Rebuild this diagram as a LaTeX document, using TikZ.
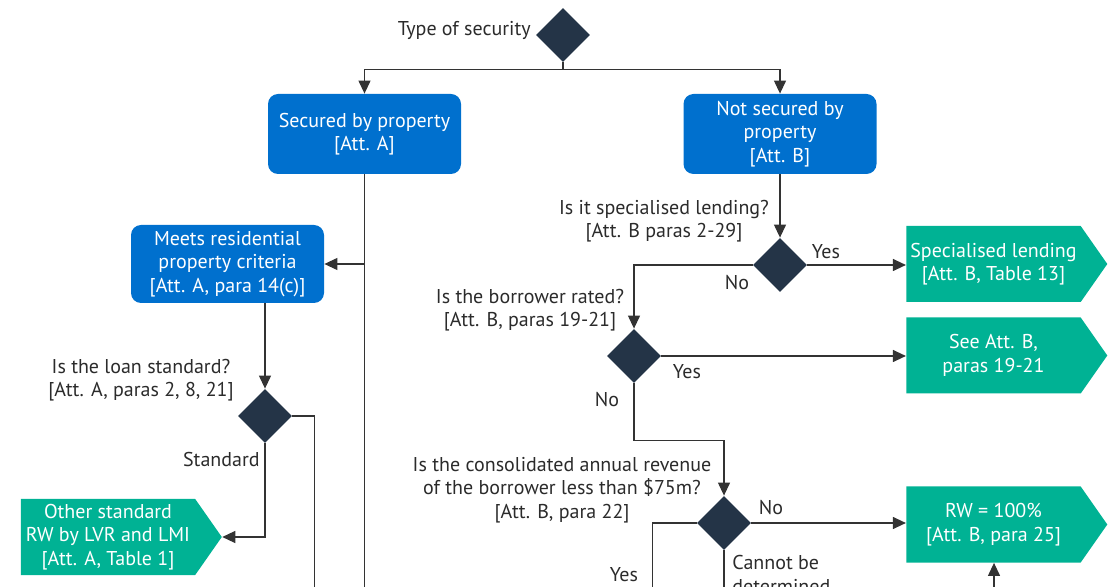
\documentclass[tikz,border=0pt]{standalone}
\usepackage{fontspec}
\setmainfont{PT Sans}
\usetikzlibrary{shapes.geometric,shapes.symbols,arrows.meta}
\definecolor{apblue}{HTML}{0070CE}
\definecolor{apgreen}{HTML}{00B294}
\definecolor{apnavy}{HTML}{243447}
\definecolor{apline}{HTML}{333333}
\definecolor{aptext}{HTML}{2B2B2B}

\begin{document}
\begin{tikzpicture}[x=0.5pt,y=-0.5pt,
    every node/.style={font=\fontsize{10}{11.75}\selectfont},
    bluebox/.style={rectangle, rounded corners=5pt, fill=apblue, text=white,
      minimum width=96.5pt, minimum height=40pt, align=center, inner sep=2pt},
    greenbox/.style={signal, signal to=east, signal pointer angle=110,
      fill=apgreen, text=white, minimum width=100.5pt, minimum height=38pt,
      align=center, inner sep=2pt},
    decide/.style={diamond, fill=apnavy, minimum width=27pt,
      minimum height=27pt, inner sep=0pt},
    lbl/.style={text=aptext, align=center, inner sep=0pt},
    conn/.style={draw=apline, line width=0.6pt},
    arr/.style={conn, -{Triangle[length=6.5pt,width=6pt]}}]

  \useasboundingbox (0,0) rectangle (1114,587);
  \clip (0,0) rectangle (1114,587);
  \coordinate (bot) at (0,600);

  % decisions
  \node[decide] (dtype) at (563,35) {};
  \node[decide] (dloan) at (265,416) {};
  \node[decide] (dspec) at (780,265) {};
  \node[decide] (drated) at (634,356) {};
  \node[decide] (drev) at (724,523) {};

  % boxes
  \node[bluebox] (secA) at (364.5,134) {Secured by property\\{}[Att. A]};
  \node[bluebox] (notB) at (780,134) {Not secured by\\property\\{}[Att. B]};
  \node[bluebox, minimum height=39pt] (meets) at (227.5,264) {Meets residential\\property criteria\\{}[Att. A, para 14(c)]};
  \node[greenbox] (other) at (108,537) {Other standard\\RW by LVR and LMI\\{}[Att. A, Table 1]};
  \node[greenbox] (spec) at (993.5,264) {Specialised lending\\{}[Att. B, Table 13]};
  \node[greenbox] (see) at (993.5,355.5) {See Att. B,\\paras 19-21};
  \node[greenbox] (rw) at (993.5,524.5) {RW = 100\%\\{}[Att. B, para 25]};

  % questions
  \node[lbl, anchor=east] (ltype) at (531,30) {Type of security};
  \node[lbl] (lloan) at (141,380) {Is the loan standard?\\{}[Att. A, paras 2, 8, 21]};
  \node[lbl] (lspec) at (664,221) {Is it specialised lending?\\{}[Att. B paras 2-29]};
  \node[lbl] (lrated) at (530,310) {Is the borrower rated?\\{}[Att. B, paras 19-21]};
  \node[lbl] (lrev) at (562,490) {Is the consolidated annual revenue\\of the borrower less than \$75m?\\{}[Att. B, para 22]};

  % answers
  \node[lbl, anchor=east] at (260,460) {Standard};
  \node[lbl] at (826,252) {Yes};
  \node[lbl] at (737,283) {No};
  \node[lbl] at (687,372) {Yes};
  \node[lbl] at (607,400) {No};
  \node[lbl] at (771,508) {No};
  \node[lbl] at (624,575) {Yes};
  \node[lbl, anchor=north west, align=left] at (732,555) {Cannot be\\determined};

  % connectors
  \draw[arr] (dtype.south) -- ++(0,7) -| (secA.north);
  \draw[arr] (dtype.south) -- ++(0,7) -| (notB.north);
  \draw[conn] (secA.south) -- (secA.south |- bot);
  \draw[arr] (secA.south |- meets.east) -- (meets.east);
  \draw[arr] (meets.south -| dloan) -- (dloan.north);
  \draw[conn] (dloan.east) -| ([xshift=11pt]dloan.east |- bot);
  \draw[arr] (dloan.south) |- (other.east);
  \draw[arr] (notB.south) -- (dspec.north);
  \draw[arr] (dspec.east) -- (spec.west |- dspec);
  \draw[arr] (dspec.west) -| (drated.north);
  \draw[arr] (drated.east) -- (see.west |- drated);
  \draw[arr] (drated.south) -- ++(0,57) -| (drev.north);
  \draw[arr] (drev.east) -- (rw.west |- drev);
  \draw[conn] (drev.west) -| ([xshift=-22pt]drev.west |- bot);
  \draw[conn] (drev.south) -- (drev.south |- bot);
  \coordinate (rwin) at (994,600);
  \draw[arr] (rwin) -- (rwin |- rw.south);

\end{tikzpicture}
\end{document}
